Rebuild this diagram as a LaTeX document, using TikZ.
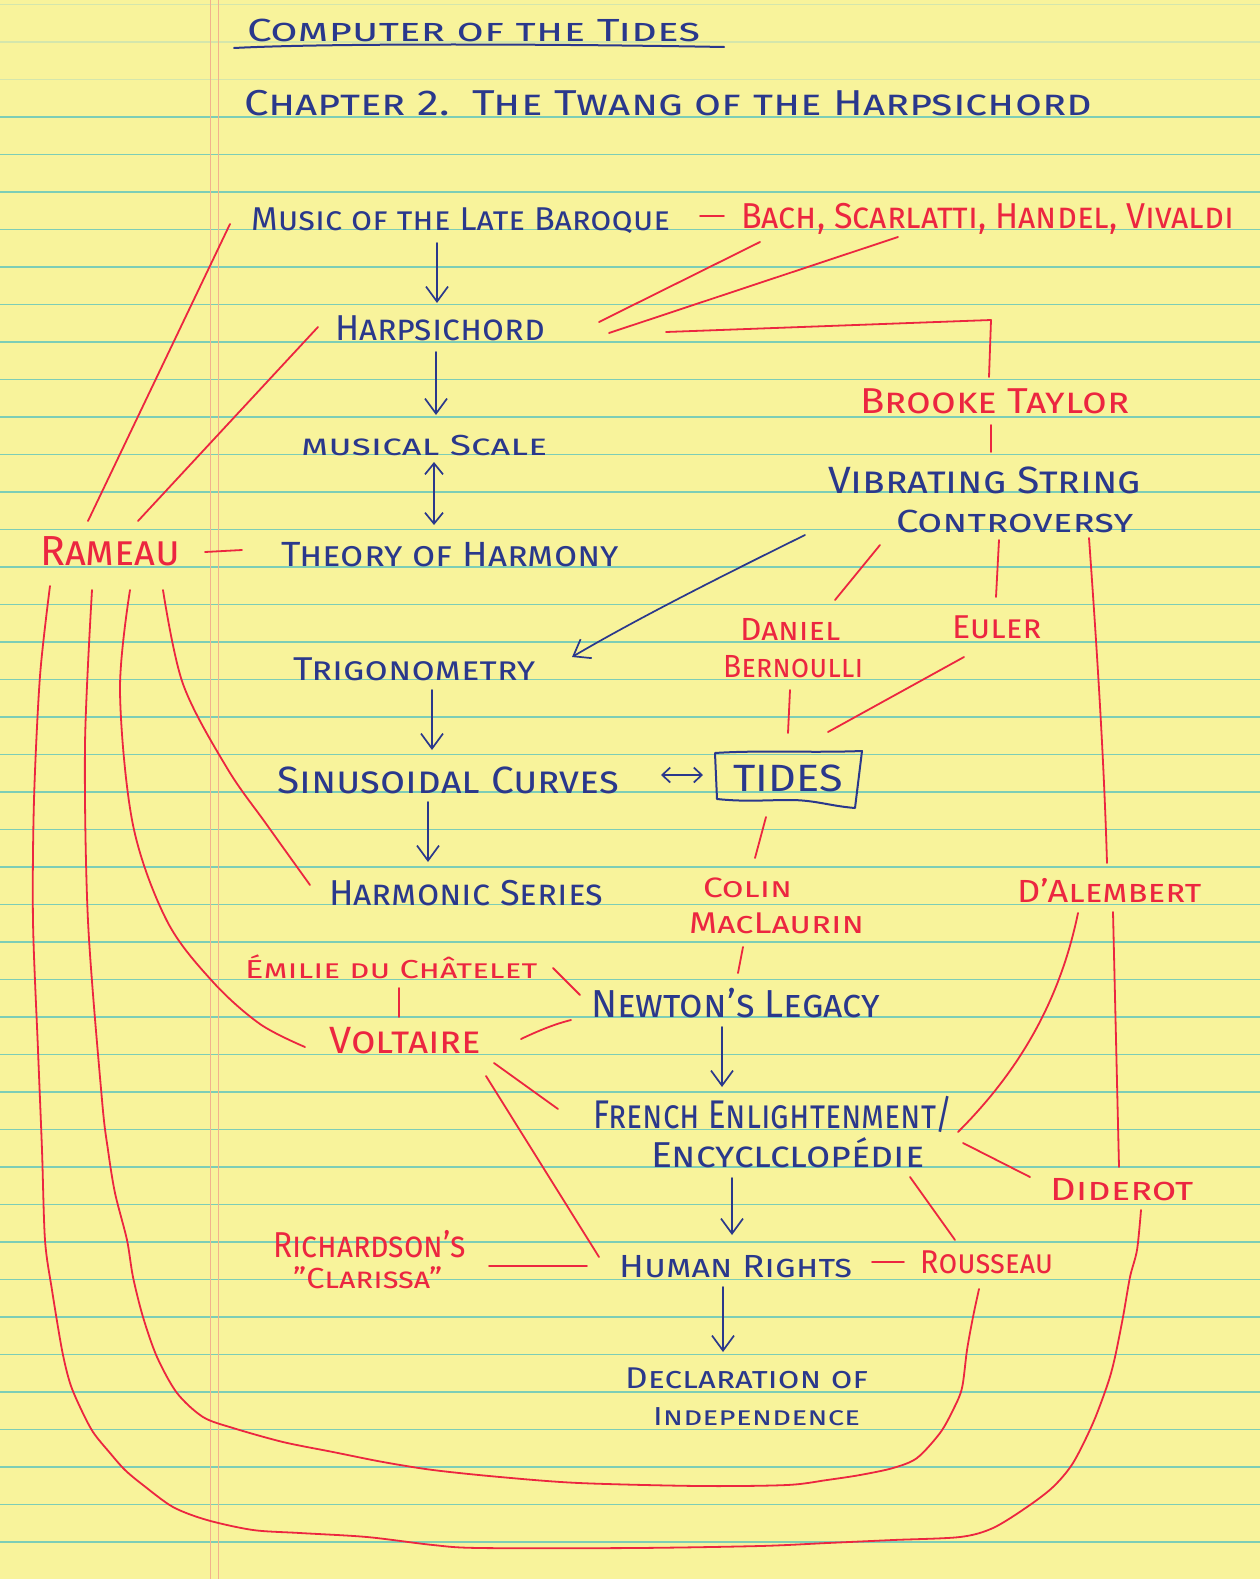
\documentclass[tikz,border=0pt]{standalone}
\usepackage{fontspec}
\setmainfont{Fira Sans}
\usepackage{graphicx}
\usetikzlibrary{arrows.meta}
\definecolor{paper}{RGB}{248,243,155}
\definecolor{rulec}{RGB}{125,205,182}
\definecolor{rulef}{RGB}{212,230,172}
\definecolor{marg}{RGB}{242,178,140}
\definecolor{inkb}{RGB}{42,56,140}
\definecolor{inkr}{RGB}{236,38,64}
\newcommand\hw[3]{\resizebox{#2pt}{\height}{\fontsize{#1pt}{#1pt}\selectfont\scshape #3}}
\begin{document}
\begin{tikzpicture}[x=1pt,y=-1pt,
  bt/.style={text=inkb, inner sep=0pt, anchor=base west},
  rt/.style={text=inkr, inner sep=0pt, anchor=base west},
  bl/.style={draw=inkb, line width=1.7pt, line cap=round, line join=round},
  rl/.style={draw=inkr, line width=1.8pt, line cap=round, line join=round},
  arrowv/.style={-{Straight Barb[length=15pt,width=22pt]}},
  arrowdd/.style={{Straight Barb[length=11pt,width=18pt]}-{Straight Barb[length=11pt,width=18pt]}},
  arrowsm/.style={{Straight Barb[length=8pt,width=15pt]}-{Straight Barb[length=8pt,width=15pt]}}]
\useasboundingbox (0,0) rectangle (1260,1579);
\fill[paper] (0,0) rectangle (1260,1579);
\foreach \k in {0,1,2} {\draw[rulef, line width=1.2pt] (0,{4.5+37.5*\k}) -- (1260,{4.5+37.5*\k});}
\foreach \k in {3,...,42} {\draw[rulec, line width=1.3pt] (0,{4.5+37.5*\k}) -- (1260,{4.5+37.5*\k});}
\draw[marg, line width=1.4pt] (210.6,0) -- (210.6,1579);
\draw[marg, line width=1.4pt] (218.6,0) -- (218.6,1579);

% ---------- text nodes ----------
\node[bt] (title) at (247,42) {\hw{32}{453}{Computer of the Tides}};
\node[bt] (chap) at (244,115) {\hw{36}{848}{Chapter 2.\ \ The Twang of the Harpsichord}};
\node[bt] (music) at (251,230) {\hw{33}{419}{Music of the Late Baroque}};
\node[rt] (comp) at (741,228) {\hw{36}{493}{Bach, Scarlatti, Handel, Vivaldi}};
\node[bt] (harp) at (335,340) {\hw{36}{210}{Harpsichord}};
\node[rt] (brooke) at (860,413) {\hw{36}{269}{Brooke Taylor}};
\node[bt] (scale) at (301,455) {\hw{29}{246}{musical Scale}};
\node[bt] (vib) at (828,493) {\hw{38}{313}{Vibrating String}};
\node[bt] (contro) at (896,532) {\hw{32}{237}{Controversy}};
\node[rt] (rameau) at (40,565) {\hw{42}{140}{Rameau}};
\node[bt] (theory) at (281,566) {\hw{35}{338}{Theory of Harmony}};
\node[rt] (daniel) at (740,640) {\hw{32}{100}{Daniel}};
\node[rt] (bern) at (723,677) {\hw{32}{140}{Bernoulli}};
\node[rt] (euler) at (952,638) {\hw{33}{89}{Euler}};
\node[bt] (trig) at (293,680) {\hw{33}{242}{Trigonometry}};
\node[bt] (sin) at (277,793) {\hw{38}{342}{Sinusoidal Curves}};
\node[text=inkb, inner sep=0pt] (tides) at (788,778) {\hw{38}{109}{TIDES}};
\node[bt] (harm) at (329,905) {\hw{36}{274}{Harmonic Series}};
\node[rt] (colin) at (703,897) {\hw{28}{89}{Colin}};
\node[rt] (mac) at (689,933) {\hw{30}{175}{MacLaurin}};
\node[rt] (dalem) at (1017,902) {\hw{32}{184}{D'Alembert}};
\node[rt] (emilie) at (245,978) {\hw{26}{292}{Émilie du Châtelet}};
\node[bt] (newton) at (591,1017) {\hw{39}{289}{Newton's Legacy}};
\node[rt] (volt) at (329,1053) {\hw{38}{152}{Voltaire}};
\node[bt] (french) at (593,1128) {\hw{40}{359}{French Enlightenment/}};
\node[bt] (encyc) at (651,1167) {\hw{36}{273}{Encyclclopédie}};
\node[rt] (diderot) at (1050,1200) {\hw{32}{143}{Diderot}};
\node[rt] (rich) at (273,1257) {\hw{36}{193}{Richardson's}};
\node[rt] (clar) at (293,1288) {\hw{29}{149}{"Clarissa"}};
\node[bt] (human) at (619,1277) {\hw{32}{233}{Human Rights}};
\node[rt] (rous) at (920,1273) {\hw{33}{133}{Rousseau}};
\node[bt] (decl) at (625,1388) {\hw{30}{243}{Declaration of}};
\node[bt] (indep) at (653,1425) {\hw{26}{207}{Independence}};

% title underline and Tides box
\draw[bl, line width=2pt] (234,48) .. controls (330,43) and (560,44) .. (724,47);
\draw[bl, line width=2pt] (715,753) .. controls (760,750) and (810,753) .. (862,751)
  -- (855,808) .. controls (830,806) and (815,800) .. (790,800)
  .. controls (765,800) and (745,802) .. (717,799) -- cycle;

% ---------- connector end points ----------
\coordinate (musicS) at (437,243);   \coordinate (harpN) at (437,303);
\coordinate (harpS) at (436,352);    \coordinate (scaleN) at (436,415);
\coordinate (scaleS) at (434,462);   \coordinate (theoryN) at (434,525);
\coordinate (controW) at (805,535);  \coordinate (trigE) at (572,657);
\coordinate (trigS) at (432,690);    \coordinate (sinN) at (432,750);
\coordinate (sinS) at (428,802);     \coordinate (harmN) at (428,862);
\coordinate (sinE) at (661,775);     \coordinate (tidesW) at (703,775);
\coordinate (newtonS) at (722,1027); \coordinate (frenchN) at (722,1087);
\coordinate (encycS) at (732,1178);  \coordinate (humanN) at (732,1235);
\coordinate (humanS) at (723,1287);  \coordinate (declN) at (723,1352);

\coordinate (musicE) at (700,216);   \coordinate (compW) at (724,216);
\coordinate (harpE1) at (599,322);   \coordinate (bachS) at (760,242);
\coordinate (harpE2) at (609,333);   \coordinate (scarS) at (898,237);
\coordinate (harpE3) at (666,332);   \coordinate (brookeN) at (989,377);
\coordinate (brookeS) at (991,425);  \coordinate (vibN) at (991,452);
\coordinate (ramN1) at (88,521);     \coordinate (musicW) at (230,224);
\coordinate (ramN2) at (138,521);    \coordinate (harpW) at (318,327);
\coordinate (ramE) at (205,552);     \coordinate (theoryW) at (242,550);
\coordinate (controS1) at (880,545); \coordinate (danielN) at (835,600);
\coordinate (controS2) at (999,540); \coordinate (eulerN) at (996,597);
\coordinate (controS3) at (1089,538);\coordinate (dalemN) at (1107,863);
\coordinate (bernS) at (790,690);    \coordinate (tidesN1) at (788,733);
\coordinate (eulerS) at (964,657);   \coordinate (tidesN2) at (828,732);
\coordinate (tidesS) at (766,817);   \coordinate (colinN) at (755,858);
\coordinate (macS) at (743,947);     \coordinate (newtonN) at (738,973);
\coordinate (emilieS) at (399,988);  \coordinate (voltN) at (399,1017);
\coordinate (emilieE) at (553,968);  \coordinate (newtonW1) at (580,995);
\coordinate (voltE) at (521,1039);   \coordinate (newtonW2) at (571,1020);
\coordinate (voltSE1) at (494,1063); \coordinate (frenchW) at (558,1109);
\coordinate (voltSE2) at (486,1076); \coordinate (humanW1) at (599,1257);
\coordinate (dalemS1) at (1078,913); \coordinate (frenchE) at (958,1132);
\coordinate (dalemS2) at (1113,912); \coordinate (diderotN) at (1119,1167);
\coordinate (encycE) at (963,1143);  \coordinate (diderotW) at (1030,1177);
\coordinate (encycSE) at (910,1177); \coordinate (rousN) at (955,1240);
\coordinate (clarE) at (489,1266);   \coordinate (humanW2) at (587,1266);
\coordinate (humanE) at (872,1262);  \coordinate (rousW) at (904,1262);
\coordinate (ramS1) at (50,586);     \coordinate (diderotS) at (1141,1210);
\coordinate (ramS2) at (92,590);     \coordinate (rousS) at (979,1289);
\coordinate (ramS3) at (130,590);    \coordinate (voltW) at (305,1047);
\coordinate (ramS4) at (163,590);    \coordinate (harmW) at (310,885);

% ---------- blue arrows ----------
\draw[bl, arrowv] (musicS) -- (harpN);
\draw[bl, arrowv] (harpS) -- (scaleN);
\draw[bl, arrowdd] (scaleS) -- (theoryN);
\draw[bl, arrowv] (controW) .. controls (730,572) and (640,617) .. (trigE);
\draw[bl, arrowv] (trigS) -- (sinN);
\draw[bl, arrowv] (sinS) -- (harmN);
\draw[bl, arrowsm] (sinE) -- (tidesW);
\draw[bl, arrowv] (newtonS) -- (frenchN);
\draw[bl, arrowv] (encycS) -- (humanN);
\draw[bl, arrowv] (humanS) -- (declN);

% ---------- red connectors ----------
\draw[rl] (musicE) -- (compW);
\draw[rl] (harpE1) -- (bachS);
\draw[rl] (harpE2) -- (scarS);
\draw[rl] (harpE3) -- (991,320) -- (brookeN);
\draw[rl] (brookeS) -- (vibN);
\draw[rl] (ramN1) -- (musicW);
\draw[rl] (ramN2) -- (harpW);
\draw[rl] (ramE) -- (theoryW);
\draw[rl] (controS1) -- (danielN);
\draw[rl] (controS2) -- (eulerN);
\draw[rl] (controS3) .. controls (1097,650) and (1104,760) .. (dalemN);
\draw[rl] (bernS) -- (tidesN1);
\draw[rl] (eulerS) -- (tidesN2);
\draw[rl] (tidesS) -- (colinN);
\draw[rl] (macS) -- (newtonN);
\draw[rl] (emilieS) -- (voltN);
\draw[rl] (emilieE) -- (newtonW1);
\draw[rl] (voltE) .. controls (540,1030) and (555,1024) .. (newtonW2);
\draw[rl] (voltSE1) -- (frenchW);
\draw[rl] (voltSE2) -- (humanW1);
\draw[rl] (dalemS1) .. controls (1060,1000) and (1020,1070) .. (frenchE);
\draw[rl] (dalemS2) -- (diderotN);
\draw[rl] (encycE) -- (diderotW);
\draw[rl] (encycSE) -- (rousN);
\draw[rl] (clarE) -- (humanW2);
\draw[rl] (humanE) -- (rousW);
\draw[rl] plot[smooth, tension=0.55] coordinates {(ramS4) (183,684) (227,768) (267,825) (harmW)};
\draw[rl] plot[smooth, tension=0.55] coordinates {(ramS3) (120,691) (133,825) (167,921) (213,982) (260,1024) (voltW)};
\draw[rl] plot[smooth, tension=0.5] coordinates {(ramS2) (85,745) (88,921) (102,1100) (108,1150) (115,1193) (127,1240) (133,1277) (143,1317) (157,1357) (177,1393) (203,1417) (233,1428) (283,1442) (333,1452) (383,1462) (433,1470) (500,1477) (579,1483) (700,1486) (787,1485) (827,1480) (860,1475) (893,1468) (917,1458) (940,1433) (953,1410) (962,1388) (967,1350) (973,1317) (rousS)};
\draw[rl] plot[smooth, tension=0.5] coordinates {(ramS1) (40,676) (34,800) (33,921) (38,1050) (42,1150) (45,1240) (52,1290) (62,1350) (70,1383) (80,1407) (93,1432) (110,1453) (125,1470) (143,1485) (173,1507) (207,1520) (253,1530) (300,1533) (367,1537) (433,1545) (480,1548) (635,1548) (760,1546) (827,1543) (893,1540) (960,1537) (993,1528) (1027,1507) (1053,1487) (1073,1463) (1093,1423) (1108,1383) (1115,1357) (1123,1317) (1130,1277) (1137,1250) (diderotS)};
\end{tikzpicture}
\end{document}
